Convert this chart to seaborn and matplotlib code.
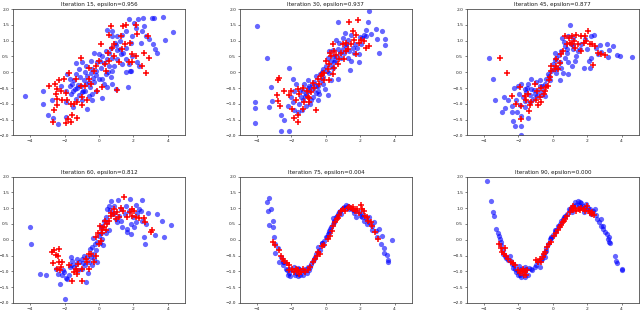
import matplotlib
matplotlib.use("Agg")
import matplotlib.pyplot as plt
import seaborn as sns
import pandas as pd

titles = ["Iteration 15, epsilon=0.956", "Iteration 30, epsilon=0.937",
          "Iteration 45, epsilon=0.877", "Iteration 60, epsilon=0.812",
          "Iteration 75, epsilon=0.004", "Iteration 90, epsilon=0.000"]
x_ticks = [-4, -2, 0, 2, 4]
y_ticks = [-2.0, -1.5, -1.0, -0.5, 0.0, 0.5, 1.0, 1.5, 2.0]

blue15 = [(-4.29,-0.75),(-3.27,-0.58),(-3.27,-1.0),(-2.75,-0.89),(-2.94,-1.36),(-2.65,-1.46),(-2.38,-1.63),(-1.91,-1.41),
          (1.74,1.69),(2.28,1.69),(2.55,1.71),(3.09,1.73),(3.21,1.71),(3.73,1.75),(4.31,1.28),(3.85,1.03),(3.37,0.6),(3.17,0.88),
          (3.25,0.72),(2.75,1.14),(2.51,1.29),(2.47,0.93),(2.13,1.4),(2.03,1.57),(1.93,1.14),(1.84,0.93),(1.59,1.29),(1.35,1.19),
          (1.55,0.77),(1.2,1.0),(1.06,0.69),(0.77,1.29),(0.74,1.14),(0.93,0.93),(0.68,0.77),(0.39,0.67),(0.19,0.51),(0.48,0.41),
          (0.77,0.46),(1.06,0.41),(1.26,0.57),(1.35,0.25),(1.55,0.41),(1.74,0.25),(1.84,0.05),(1.93,0.51),(2.22,0.31),(2.32,0.2),
          (0.77,0.05),(0.68,-0.16),(0.58,0.2),(0.1,0.15),(-0.1,0.31),(-0.19,0.05),(0.0,-0.21),(-0.29,-0.32),(-0.19,-0.58),
          (-0.39,-0.89),(-0.68,-1.15),(-0.97,-0.89),(-0.81,-0.58),(-1.06,-0.42),(-0.87,-0.26),(-0.68,-0.11),(-0.48,-0.01),
          (-0.77,0.2),(-0.97,0.31),(-1.16,0.1),(-1.32,0.28),(-1.35,-0.06),(-1.45,-0.26),(-1.26,-0.49),(-1.39,-0.52),(-1.55,-0.37),
          (-1.7,-0.21),(-1.84,-0.06),(-1.93,-0.58),(-1.64,-0.68),(-1.35,-0.84),(-1.16,-0.73),(-1.0,-0.63),(-0.74,-0.37),
          (-0.54,-0.47),(-0.33,-0.18),(0.19,-0.21),(0.39,-0.06),(0.29,-0.37),(0.48,-0.47),(0.77,-0.37),(0.97,-0.52),(1.7,-0.47),
          (1.8,0.03),(0.0,0.57),(-0.29,0.62),(-0.48,0.36),(1.06,1.14),(0.48,1.35),
          (-1.2,-0.4),(-0.9,-0.6),(-0.6,-0.3),(-0.4,-0.7),(-1.5,-0.6),(-1.1,-0.15),(-0.2,-0.1),(0.3,0.3),(0.6,0.6),(1.0,0.85),
          (1.4,0.6),(0.5,0.0),(-0.8,0.0),(-1.7,-0.45),(-2.2,-0.45),(-0.4,0.1),(0.9,0.2),(1.2,0.75),(2.6,1.45),(2.9,1.05),
          (0.2,-0.8),(-0.6,-0.75),(-1.9,-0.95),(-1.5,-1.1),(0.05,0.35),(1.55,0.0)]
red15 = [(0.68,1.45),(1.41,1.45),(1.55,1.48),(2.13,1.5),(0.58,1.19),(0.1,0.9),(0.87,0.88),(1.26,1.14),(1.78,0.91),(2.83,1.14),
         (2.61,0.62),(2.13,0.51),(1.93,0.57),(2.9,0.44),(2.48,0.2),(2.75,-0.03),(1.93,0.31),(1.16,0.31),(0.87,0.51),(0.58,0.36),
         (0.35,0.25),(0.0,0.36),(-0.19,0.2),(-0.58,0.15),(-1.06,0.46),(-1.74,-0.01),(-2.03,-0.21),(-2.32,-0.26),(-2.55,-0.37),
         (-2.9,-0.42),(-2.42,-0.52),(-2.22,-0.6),(-2.51,-0.7),(-2.42,-0.84),(-2.13,-0.89),(-1.84,-0.89),(-1.64,-0.99),
         (-1.45,-1.01),(-1.26,-0.94),(-0.97,-0.78),(-0.68,-0.87),(-0.97,-1.04),(-2.42,-1.04),(-2.61,-1.18),(-2.65,-1.58),
         (-1.93,-1.6),(-1.78,-1.49),(-1.6,-1.58),(-1.55,-1.36),(-1.3,-1.46),(-0.48,-0.37),(-0.1,-0.58),(0.19,-0.47),
         (-0.58,-0.21),(0.39,0.05),(1.06,-0.55),(1.74,0.31),(1.35,0.72),(0.77,0.77),(-1.35,-0.21),(-1.06,-0.42),
         (-0.3,0.05),(0.5,0.6),(1.5,0.9),(-1.9,-0.65),(-0.8,-0.45),(2.2,1.2)]

blue30 = [(-4.0,1.45),(-3.42,0.46),(-4.15,-0.94),(-4.15,-1.13),(-4.15,-1.6),(-3.17,-0.46),(-3.13,-0.91),(-3.29,-1.1),
          (-2.61,-1.36),(-2.61,-1.87),(-2.13,-1.87),(-2.42,-1.51),(-2.16,0.15),(-1.93,-0.21),(-1.74,-0.37),(-1.84,-0.58),
          (-2.03,-0.78),(-2.22,-1.08),(-1.84,-1.2),(-1.64,-1.25),(-1.55,-0.99),(-1.45,-0.78),(-1.35,-0.58),(-1.26,-0.37),
          (-1.06,-0.26),(-0.97,-0.45),(-0.77,-0.52),(-0.68,-0.32),(-0.58,-0.11),(-0.43,-0.42),(-0.19,-0.37),(-0.04,-0.52),
          (0.1,-0.73),(-0.39,-0.68),(-0.77,-0.78),(-1.16,-0.68),(-1.35,-0.89),(-1.16,-1.08),(-0.87,-0.87),(-0.48,-0.89),
          (-1.06,-0.49),(-0.35,-0.04),(-0.19,0.1),(0.0,0.2),(0.1,0.46),(0.29,0.36),(0.19,-0.01),(0.39,0.15),(0.48,0.31),
          (0.73,-0.21),(0.58,0.51),(0.68,0.72),(0.77,0.93),(0.97,1.09),(1.16,0.83),(1.06,0.62),(1.26,0.46),(1.39,0.07),
          (1.35,0.67),(1.55,0.77),(1.64,0.62),(1.84,0.77),(1.93,0.33),(2.03,0.88),(2.13,1.09),(2.22,1.19),(2.32,1.35),
          (2.47,1.58),(2.51,1.95),(2.32,1.14),(2.9,1.38),(2.99,1.05),(3.29,1.29),(3.09,0.62),(3.44,1.06),(3.42,0.85),
          (0.73,1.6),(1.45,1.19),(1.26,1.03),(0.58,1.03),(0.39,0.69),(1.45,0.36),(1.93,0.59),(0.19,0.67),(0.29,-0.26),
          (-0.15,-0.16),
          (-1.0,-0.6),(-0.8,-0.4),(-0.55,-0.45),(-0.3,-0.25),(-0.6,-0.65),(-0.2,0.0),(0.05,0.05),(0.3,0.2),(0.55,0.4),
          (0.8,0.6),(1.0,0.75),(1.2,0.9),(1.7,0.9),(2.0,1.1),(0.4,0.5),(-1.2,-0.75),(-1.5,-0.55),(-1.9,-0.95),(-0.9,-1.0),
          (-1.4,-1.2),(2.6,1.2),(1.1,1.25),(0.9,0.45),(-0.45,-0.6)]
red30 = [(1.35,1.58),(1.87,1.64),(1.55,1.32),(1.78,1.19),(1.64,1.03),(1.45,0.9),(1.16,0.93),(0.97,0.88),(0.87,0.62),
         (0.43,0.88),(0.48,0.67),(0.23,0.62),(1.93,0.93),(2.03,1.03),(2.32,0.77),(2.51,0.83),(1.78,0.57),(1.06,0.41),
         (0.68,0.25),(0.48,0.15),(0.19,0.25),(0.1,0.1),(-0.1,-0.01),(-0.29,-0.11),(-0.48,-0.21),(-0.1,-0.26),(-0.39,-0.37),
         (-0.68,-0.49),(-0.87,-0.63),(-1.06,-0.78),(-1.26,-0.94),(-1.35,-1.15),(-0.97,-0.94),(-0.58,-1.2),(-1.6,-1.36),
         (-1.64,-1.58),(-1.84,-1.44),(-2.71,-0.19),(-2.8,-0.26),(-2.42,-0.6),(-2.13,-0.73),(-2.84,-0.71),(-2.8,-0.91),
         (-2.65,-1.08),(-1.64,-0.52),(-1.55,-0.68),(-1.35,-0.49),(-1.12,-0.58),(-0.77,-0.35),(0.19,-0.26),(0.0,0.36),
         (0.29,0.51),(0.77,0.41),(1.16,0.67),(-1.97,-1.15),(-1.74,-0.89),(0.39,-0.06),
         (-0.2,-0.05),(0.6,0.55),(1.3,0.75),(-1.0,-0.8),(-2.0,-0.6),(2.2,1.0)]

blue45 = [(-3.71,0.44),(-3.48,-0.21),(-3.38,-0.89),(-2.85,-0.78),(-2.6,-0.89),(-2.93,-1.27),(-2.8,-1.12),(-2.37,-1.08),
          (-2.35,-1.25),(-2.31,-1.53),(-2.21,-1.69),(-1.83,-1.69),(-1.83,-1.98),(-1.83,-1.4),(-1.44,-1.46),(-2.25,-0.49),
          (-2.02,-0.42),(-1.83,-0.37),(-1.63,-0.52),(-1.98,-0.7),(-1.73,-0.78),(-1.53,-0.63),(-1.44,-0.37),(-1.24,-0.52),
          (-1.34,-0.73),(-1.15,-0.84),(-1.05,-0.68),(-0.85,-0.58),(-0.76,-0.42),(-0.95,-0.32),(-0.66,-0.73),(-0.56,-0.58),
          (-0.47,-0.37),(-0.37,-0.21),(-0.23,-0.11),(-0.12,0.05),(0.02,0.25),(0.12,0.38),(0.21,0.46),(0.27,0.15),
          (0.41,-0.26),(0.41,0.31),(0.5,0.67),(0.54,1.09),(0.7,0.83),(0.8,0.62),(0.89,1.14),(0.99,1.5),(1.05,0.88),
          (1.18,0.72),(0.89,0.31),(1.09,0.2),(1.38,0.51),(1.48,0.67),(1.67,0.88),(1.83,0.15),(2.16,0.15),(2.1,0.36),
          (2.25,0.46),(2.25,1.14),(2.41,1.19),(2.54,0.77),(2.74,0.86),(3.13,0.9),(3.22,0.48),(3.51,0.83),(3.71,0.54),
          (3.9,0.51),(4.58,0.48),(2.64,0.57),(-0.76,-0.26),(-0.17,-0.26),(0.21,-0.01),(0.6,-0.01),(0.89,-0.06),(0.7,0.46),
          (1.18,1.09),(1.28,0.36),(-1.24,-0.21),(-1.63,-1.1),(-2.12,-0.89),
          (-1.6,-0.9),(-1.9,-1.05),(-1.3,-0.95),(-1.1,-0.55),(-0.9,-0.75),(-0.6,-0.45),(-0.3,-0.05),(0.05,0.1),(0.35,0.55),
          (0.65,0.95),(0.85,0.75),(1.2,0.85),(1.6,0.75),(2.0,0.75),(2.8,0.65),(3.3,0.7),(0.15,0.6),(-2.1,-1.25),(-1.5,-0.5),
          (-0.45,-0.75),(0.45,0.15),(1.9,1.05)]
red45 = [(-3.09,0.44),(-2.66,-0.03),(-2.37,-0.76),(-2.12,-1.02),(-1.83,-1.08),(-1.83,-1.49),(-1.4,-1.22),(-1.34,-1.04),
         (-1.24,-0.94),(-1.53,-0.89),(-0.95,-0.89),(-0.76,-0.78),(-0.85,-1.04),(-0.66,-0.94),(-0.47,-0.58),(-0.37,-0.47),
         (-0.27,-0.42),(-0.5,-0.68),(-0.17,-0.16),(-0.08,0.05),(0.12,0.1),(0.21,0.2),(0.31,0.1),(-0.08,0.2),(0.47,0.57),
         (0.6,0.67),(0.8,0.88),(0.93,1.09),(1.09,1.14),(1.24,0.98),(1.38,1.19),(1.48,0.88),(1.67,1.14),(1.83,0.93),
         (1.96,0.98),(2.06,1.29),(2.16,0.88),(2.31,0.9),(2.45,0.83),(2.64,0.62),(2.8,0.59),(3.03,0.54),(2.35,0.23),
         (1.67,0.67),(1.28,0.77),(0.99,0.93),(0.7,1.14),(0.21,0.41),(-1.44,-0.68),(-1.05,-0.37),(-0.66,-0.5),(-1.92,-0.47),
         (-0.9,-0.6),(-0.2,-0.25),(0.4,0.3),(1.1,0.9),(1.9,1.15),(-1.6,-0.75)]

blue60 = [(-4.01,0.39),(-3.97,-0.13),(-3.45,-1.08),(-3.1,-1.1),(-2.48,-0.94),(-2.36,-1.08),(-2.27,-1.39),(-1.98,-1.88),
          (-2.03,-1.02),(-1.84,-1.25),(-1.74,-1.13),(-1.71,-0.87),(-1.65,-0.55),(-1.55,-0.66),(-1.36,-0.76),(-1.16,-0.71),
          (-1.2,-0.97),(-0.97,-0.92),(-0.74,-1.34),(-0.81,-0.81),(-0.58,-0.71),(-0.48,-0.55),(-0.33,-0.45),(-0.29,-0.6),
          (-0.19,-0.34),(-0.39,-0.24),(-0.1,-0.08),(0.0,0.13),(0.1,0.22),(0.19,0.03),(0.1,0.39),(0.29,0.6),(0.39,0.71),
          (0.48,0.97),(0.58,1.08),(0.68,1.23),(0.77,0.81),(0.97,0.66),(1.06,0.55),(1.16,0.76),(1.1,1.25),(0.87,1.08),
          (1.65,0.34),(1.65,0.24),(1.8,1.29),(1.88,0.5),(2.03,0.39),(2.13,0.55),(2.17,1.1),(2.33,0.97),(2.52,1.25),
          (2.42,0.92),(2.52,0.6),(2.65,0.08),(2.67,-0.13),(2.87,0.85),(3.29,0.16),(3.39,0.81),(3.68,0.6),(3.81,0.1),
          (4.22,0.47),(1.84,0.18),(1.98,0.71),(1.55,1.08),(1.36,0.39),(1.26,0.97),(0.58,0.32),(0.23,-0.18),(-0.62,-1.05),
          (-0.87,-0.5),(-1.0,-0.62),(-1.45,-0.87),(-2.17,-1.1),(-0.1,-0.71),(-0.43,-0.81),
          (-1.6,-0.8),(-1.3,-0.6),(-0.9,-0.75),(-0.7,-0.55),(-0.5,-0.3),(-0.25,-0.15),(0.05,-0.1),(0.2,0.45),(0.45,0.55),
          (0.65,0.95),(0.9,0.85),(1.3,0.6),(1.5,0.8),(2.2,0.85),(2.75,0.5),(1.75,0.9),(-2.1,-0.95),(-1.9,-1.2),(-0.35,0.05),
          (0.4,0.2)]
red60 = [(-2.71,-0.39),(-2.6,-0.34),(-2.52,-0.48),(-2.33,-0.29),(-2.67,-0.73),(-2.33,-0.71),(-2.13,-0.71),(-2.23,-0.87),
         (-2.29,-0.97),(-2.42,-0.92),(-1.59,-1.32),(-1.45,-1.02),(-1.36,-0.92),(-1.26,-1.08),(-1.0,-0.94),(-0.97,-1.32),
         (-0.78,-0.6),(-0.68,-0.71),(-0.48,-0.45),(-0.58,-0.92),(-0.29,-0.71),(-0.19,-0.5),(-0.15,0.08),(-0.04,0.22),
         (0.16,0.32),(0.29,0.39),(0.39,0.32),(0.48,0.5),(0.35,0.6),(0.58,0.6),(0.68,0.76),(0.87,0.81),(0.97,0.66),
         (1.06,0.87),(1.26,1.02),(1.4,0.92),(1.45,1.36),(1.65,0.71),(1.8,0.89),(1.94,0.97),(2.03,0.92),(2.13,0.71),
         (2.33,0.68),(2.62,0.68),(2.67,0.55),(3.0,0.24),(3.1,0.32),(0.06,0.42),(0.0,-0.13),(0.1,-0.03),(1.16,0.71),
         (0.87,0.97),(-1.24,-0.76),(-1.74,-0.81),
         (-0.6,-0.45),(0.2,0.2),(0.7,0.85),(1.9,0.75),(-1.3,-1.0),(-2.4,-0.5)]

blue75 = [(-3.42,1.18),(-3.29,1.31),(-3.38,0.92),(-3.19,0.97),(-3.32,0.48),(-3.05,0.39),(-2.99,0.08),(-2.94,-0.13),
          (-2.96,-0.42),(-2.61,-0.55),(-2.51,-0.81),(-2.32,-0.92),(-2.16,-1.05),(-2.09,-1.15),(-1.93,-0.97),(-1.74,-1.05),
          (-1.58,-0.92),(-1.51,-1.13),(-1.39,-0.97),(-1.2,-0.92),(-1.06,-0.87),(-0.97,-0.97),(-0.87,-0.76),(-0.77,-0.66),
          (-0.62,-0.55),(-0.48,-0.39),(-0.35,-0.31),(-0.19,-0.18),(-0.1,-0.03),(0.0,0.08),(0.1,0.18),(0.19,0.29),
          (0.29,0.39),(0.39,0.5),(0.48,0.6),(0.58,0.71),(0.68,0.81),(0.77,0.89),(0.93,0.97),(1.06,1.05),(1.16,1.1),
          (1.26,1.08),(1.35,0.97),(1.45,1.02),(1.55,0.95),(1.74,0.71),(1.93,0.87),(2.03,0.76),(2.13,0.71),(2.22,0.6),
          (2.32,0.68),(2.51,0.55),(2.67,0.45),(2.8,0.57),(2.9,0.29),(2.99,0.08),(3.19,-0.13),(3.29,0.11),(3.38,-0.42),
          (3.57,-0.48),(3.63,-0.63),(3.61,-0.69),(3.86,-0.01),(-2.42,-0.71),(-2.71,-0.69),(-1.84,-0.87),(-1.64,-1.15),
          (-1.1,-1.05),(-0.43,-0.24),(-0.23,-0.1),(0.43,0.68),(0.87,0.81),(1.64,0.84),(1.2,0.99),(3.09,0.34),
          (-1.32,-1.11),(-2.09,-0.94),(0.19,0.21),(2.51,0.71),
          (-3.1,0.6),(-2.8,-0.25),(-2.5,-0.7),(-2.25,-0.95),(-1.8,-1.1),(-1.6,-0.9),(-1.3,-1.0),(-0.95,-0.85),(-0.7,-0.6),
          (-0.55,-0.45),(-0.25,-0.1),(0.05,0.1),(0.25,0.35),(0.45,0.55),(0.65,0.75),(0.85,0.9),(1.0,1.0),(1.3,1.05),
          (1.7,0.95),(2.1,0.8),(2.4,0.5),(2.7,0.3),(3.4,-0.25),(-2.2,-1.1)]
red75 = [(-3.05,-0.06),(-2.96,-0.16),(-2.75,-0.31),(-2.61,-0.5),(-2.42,-0.66),(-2.28,-0.73),(-2.13,-0.81),(-1.97,-0.92),
         (-1.84,-1.02),(-1.7,-0.97),(-1.58,-1.08),(-1.45,-1.02),(-1.35,-0.92),(-1.2,-1.02),(-1.06,-0.97),(-0.93,-0.87),
         (-0.77,-0.71),(-0.62,-0.6),(-0.54,-0.5),(-0.43,-0.39),(-0.35,-0.45),(-0.1,-0.16),(0.1,0.03),(0.23,0.13),
         (0.35,0.29),(0.44,0.42),(0.54,0.55),(0.62,0.66),(0.77,0.78),(0.87,0.92),(1.0,0.97),(1.12,0.92),(1.26,1.02),
         (1.35,1.05),(1.45,0.99),(1.58,1.05),(1.7,0.92),(1.84,0.97),(2.03,1.1),(2.13,0.97),(2.22,0.92),(2.28,0.76),
         (2.38,0.71),(2.61,0.55),(2.71,0.45),(2.84,0.26),(3.03,0.01),(1.93,0.84),(-2.16,-0.97),(-1.74,-0.92),
         (-2.5,-0.6),(-1.6,-0.95),(-0.2,-0.2),(0.7,0.7),(1.55,0.98),(2.45,0.6)]

blue90 = [(-3.81,1.86),(-3.57,1.23),(-3.48,0.89),(-3.42,0.74),(-3.28,0.34),(-3.15,0.13),(-3.09,0.03),(-2.99,-0.18),
          (-2.89,-0.34),(-2.8,-0.5),(-2.74,-0.58),(-2.5,-0.5),(-2.45,-0.66),(-2.37,-0.76),(-2.25,-0.81),(-2.17,-0.92),
          (-2.12,-1.02),(-1.98,-0.84),(-1.86,-0.92),(-1.83,-1.18),(-1.73,-0.97),(-1.63,-0.87),(-1.53,-0.92),(-1.44,-1.13),
          (-1.28,-0.92),(-1.2,-0.97),(-1.05,-0.87),(-0.85,-0.71),(-0.7,-0.63),(-0.56,-0.48),(-0.47,-0.39),(-0.37,-0.27),
          (-0.27,-0.13),(-0.17,0.01),(-0.08,0.08),(0.02,0.15),(0.12,0.24),(0.21,0.32),(0.31,0.42),(0.41,0.5),(0.5,0.6),
          (0.66,0.71),(0.8,0.81),(0.93,0.97),(1.05,1.02),(1.18,1.08),(1.28,1.18),(1.44,1.23),(1.57,1.2),(1.67,1.15),
          (1.77,1.08),(1.96,1.12),(2.06,1.02),(2.16,0.97),(2.25,0.81),(2.45,0.97),(2.54,0.78),(2.68,0.57),(2.8,0.66),
          (2.83,0.42),(2.93,0.45),(3.03,0.26),(3.13,0.18),(3.2,0.03),(3.26,-0.06),(3.28,0.08),(3.61,-0.53),(3.65,-0.66),
          (3.75,-0.73),(4.0,-0.95),(4.04,-0.94),(-1.92,-1.13),(-1.59,-1.18),(0.6,0.66),(1.09,0.87),(1.51,1.1),(1.83,0.87),
          (2.21,0.89),(-0.47,-0.55),(-0.76,-0.87),(-3.03,-0.08),
          (-3.2,0.2),(-2.9,-0.45),(-2.6,-0.65),(-2.3,-0.9),(-2.0,-1.0),(-1.7,-1.05),(-1.4,-0.9),(-0.95,-0.8),(-0.65,-0.6),
          (-0.4,-0.35),(-0.1,0.05),(0.15,0.3),(0.35,0.45),(0.7,0.75),(1.0,0.95),(1.35,1.1),(1.65,1.05),(1.9,1.0),
          (2.35,0.9),(2.6,0.65),(2.95,0.35),(3.35,-0.1),(-2.05,-1.12)]
red90 = [(-3.15,-0.13),(-3.03,-0.27),(-2.95,-0.39),(-2.83,-0.45),(-2.6,-0.6),(-2.45,-0.71),(-2.31,-0.73),(-2.21,-0.81),
         (-2.02,-0.97),(-1.92,-1.05),(-1.73,-0.92),(-1.63,-1.02),(-1.53,-1.11),(-1.48,-0.97),(-1.67,-1.13),(-0.85,-0.69),
         (-0.76,-0.6),(-0.66,-0.71),(-0.56,-0.55),(-0.43,-0.39),(-0.31,-0.24),(-0.23,-0.13),(-0.12,-0.06),(0.08,0.13),
         (0.17,0.22),(0.31,0.32),(0.41,0.39),(0.5,0.47),(0.6,0.55),(0.74,0.66),(0.85,0.76),(0.99,0.87),(1.15,0.95),
         (1.28,1.02),(1.38,0.92),(1.51,0.97),(1.67,0.99),(1.83,0.97),(1.9,0.92),(2.02,1.08),(2.1,0.92),(2.19,0.84),
         (2.29,0.87),(2.41,0.78),(1.18,1.08),(1.09,0.99),(-2.76,-0.27),(-0.95,-0.63),
         (-2.7,-0.5),(-1.8,-1.0),(-0.5,-0.45),(0.65,0.6),(1.6,0.93),(2.3,0.8)]

blues = [blue15, blue30, blue45, blue60, blue75, blue90]
reds = [red15, red30, red45, red60, red75, red90]

plt.rcParams.update({
    "axes.linewidth": 0.6,
    "axes.edgecolor": "0.3",
    "xtick.major.size": 1.5,
    "ytick.major.size": 1.5,
    "xtick.major.width": 0.5,
    "ytick.major.width": 0.5,
    "xtick.major.pad": 1.2,
    "ytick.major.pad": 1.2,
    "xtick.labelsize": 3.2,
    "ytick.labelsize": 3.2,
    "xtick.color": "0.3",
    "ytick.color": "0.3",
    "xtick.labelcolor": "0.15",
    "ytick.labelcolor": "0.15",
    "font.family": ["DejaVu Sans"],
})

fig, axes = plt.subplots(2, 3, figsize=(6.4, 3.12), dpi=100)
fig.subplots_adjust(left=0.0203, right=0.998, bottom=0.029, top=0.971,
                    wspace=0.32, hspace=0.325)

for ax, title, b, r in zip(axes.flat, titles, blues, reds):
    bdf = pd.DataFrame(b, columns=["x", "y"])
    rdf = pd.DataFrame(r, columns=["x", "y"])
    sns.scatterplot(data=bdf, x="x", y="y", ax=ax, color="blue", alpha=0.6,
                    s=14, linewidth=0, marker="o", legend=False)
    sns.scatterplot(data=rdf, x="x", y="y", ax=ax, color="red", marker="+",
                    s=14, linewidth=1.1, legend=False)
    ax.set_xlim(-5, 5)
    ax.set_ylim(-2, 2)
    ax.set_xticks(x_ticks)
    ax.set_yticks(y_ticks)
    ax.set_xlabel("")
    ax.set_ylabel("")
    ax.set_title(title, fontsize=4.1, pad=2.0, color="0.1")

fig.savefig("out.png", dpi=100)
